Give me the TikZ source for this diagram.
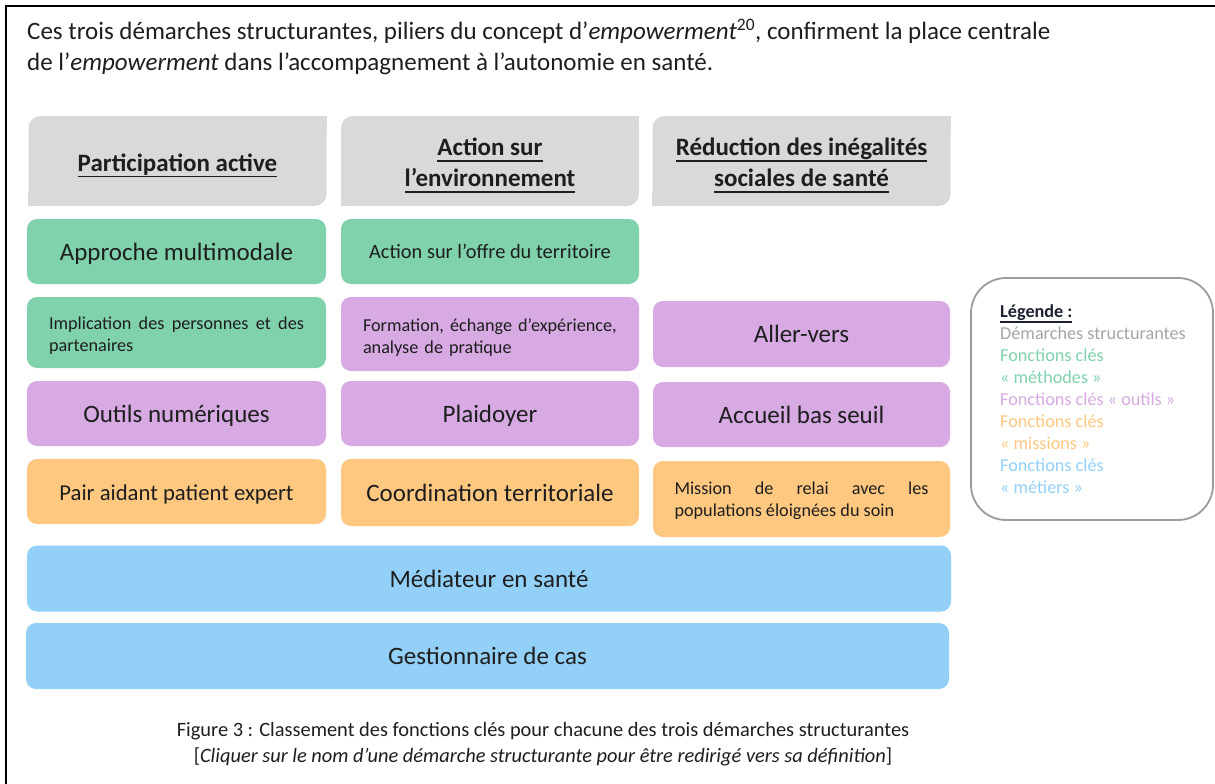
\documentclass[tikz,border=0pt]{standalone}
\usepackage{fontspec}
\setmainfont{Carlito}
\usetikzlibrary{backgrounds}

\definecolor{hdrgray}{HTML}{D9D9D9}
\definecolor{methgreen}{HTML}{80D2AD}
\definecolor{toolpurple}{HTML}{D7AAE3}
\definecolor{missorange}{HTML}{FFC880}
\definecolor{jobblue}{HTML}{93D0F8}
\definecolor{inkdark}{HTML}{1E1E1E}
\definecolor{legendgray}{HTML}{A6A6A6}
\definecolor{legendline}{HTML}{9C9C9C}
\definecolor{legendtitle}{HTML}{1C2230}

% font sizes
\newcommand\bigtext{\fontsize{25}{31}\selectfont}
\newcommand\lesstext{\fontsize{22.7}{28}\selectfont}
\newcommand\midtext{\fontsize{20.4}{26}\selectfont}
\newcommand\smalltext{\fontsize{18.2}{22}\selectfont}

% thick underline for headings
\newcommand\hdrline[1]{\setbox0\hbox{#1}\rlap{\rule[-6pt]{\wd0}{1.6pt}}\box0}
\newcommand\legline[1]{\setbox0\hbox{#1}\rlap{\rule[-4.6pt]{\wd0}{1.3pt}}\box0}

\begin{document}
\begin{tikzpicture}[x=1pt,y=-1pt,
  hdr/.style={fill=hdrgray, rounded corners=12pt, inner sep=0pt,
    minimum width=298pt, minimum height=90pt},
  hdrtext/.style={inner sep=0pt, align=center, font=\bfseries\bigtext, text=inkdark},
  card/.style={rounded corners=10pt, inner sep=0pt, minimum height=65pt,
    align=center, text=inkdark, font=\bigtext},
  oneline/.style={text height=20pt, text depth=2.3pt},
  wide/.style={card, minimum width=299pt},
  mid/.style={card, minimum width=298pt},
  right/.style={card, minimum width=297pt},
  small/.style={font=\smalltext},
  meth/.style={fill=methgreen},
  tool/.style={fill=toolpurple},
  miss/.style={fill=missorange},
  job/.style={fill=jobblue},
]
\useasboundingbox (0,0) rectangle (1215,784);

% frame lines
\draw[line width=2pt, black] (6,784) -- (6,6) -- (1215,6);

% introduction
\node[anchor=base west, inner sep=0pt, text=inkdark, font=\bigtext] (t1) at (27,39.5)
  {Ces trois démarches structurantes, piliers du concept d’\textit{empowerment}\textsuperscript{20}, confirment la place centrale};
\node[anchor=base west, inner sep=0pt, text=inkdark, font=\bigtext] (t2) at (27,70.5)
  {de l’\textit{empowerment} dans l’accompagnement à l’autonomie en santé.};

% column headings
\node[hdr] (h1) at (177.5,161) {};
\node[hdr] (h2) at (490,161) {};
\node[hdr] (h3) at (801.5,161) {};
\node[hdrtext] (h1t) at ([yshift=-4.5pt]h1.center) {\hdrline{Participation active}};
\node[hdrtext] (h2t) at ([yshift=-4.5pt]h2.center) {\hdrline{Action sur}\\\hdrline{l’environnement}};
\node[hdrtext] (h3t) at ([yshift=-4.5pt]h3.center) {\hdrline{Réduction des inégalités}\\\hdrline{sociales de santé}};

% row 1
\node[wide, meth, oneline] (m1) at (176.5,251.5) {Approche multimodale};
\node[mid, meth, font=\midtext] (m2) at (490,251.5) {Action sur l’offre du territoire};

% row 2
\node[wide, meth, minimum height=71pt, small, text width=255pt, align=justify] (m3) at (176.5,332.5)
  {\hyphenpenalty=10000 \rule{0pt}{19pt}Implication des personnes et des\linebreak partenaires};
\node[mid, tool, minimum height=74pt, small, text width=254pt, align=left] (o1) at (490,334)
  {\rule{0pt}{19pt}Formation, échange d’expérience,\\analyse de pratique};
\node[right, tool, oneline, minimum height=66pt] (o2) at (801.5,334) {Aller-vers};

% row 3
\node[wide, tool, oneline] (o3) at (176.5,413.5) {Outils numériques};
\node[mid, tool, oneline] (o4) at (490,413.5) {Plaidoyer};
\node[right, tool, oneline] (o5) at (801.5,414.5) {Accueil bas seuil};

% row 4
\node[wide, miss, oneline, font=\lesstext] (s1) at (176.5,491.5) {Pair aidant patient expert};
\node[mid, miss, oneline, minimum height=67pt] (s2) at (490,492.5) {Coordination territoriale};
\node[right, miss, minimum height=76pt, small, text width=254pt, align=justify] (s3) at (801.5,499)
  {\hyphenpenalty=10000 \rule{0pt}{17pt}Mission de relai avec les\linebreak populations éloignées du soin};

% full-width rows
\node[card, job, oneline, minimum width=924pt, minimum height=66pt] (b1) at (489,578.5) {Médiateur en santé};
\node[card, job, oneline, minimum width=923pt, minimum height=66pt] (b2) at (487.5,656) {Gestionnaire de cas};

% legend
\node[draw=legendline, line width=1.8pt, rounded corners=35pt, minimum width=242pt,
  minimum height=242pt, inner sep=0pt] (lg) at (1092,399) {};
\node[anchor=north west, inner sep=0pt, align=left, font=\smalltext] (lgt) at (1000,305)
  {\textcolor{legendtitle}{\bfseries\legline{Légende :}}\\
   \textcolor{legendgray}{Démarches structurantes}\\
   \textcolor{methgreen}{Fonctions clés}\\
   \textcolor{methgreen}{«~méthodes~»}\\
   \textcolor{toolpurple}{Fonctions clés «~outils~»}\\
   \textcolor{missorange}{Fonctions clés}\\
   \textcolor{missorange}{«~missions~»}\\
   \textcolor{jobblue}{Fonctions clés}\\
   \textcolor{jobblue}{«~métiers~»}};

% caption
\node[align=center, inner sep=0pt, text=inkdark, font=\midtext] (cap) at (543,744.5)
  {Figure 3 : Classement des fonctions clés pour chacune des trois démarches structurantes\\
   {[}\textit{Cliquer sur le nom d’une démarche structurante pour être redirigé vers sa définition}{]}};

% square corners of the headings, and page background
\begin{scope}[on background layer]
  \fill[white] (0,0) rectangle (1215,784);
  \foreach \h in {h1,h2,h3} {
    \fill[hdrgray] (\h.north east) rectangle ([xshift=-14pt,yshift=-14pt]\h.north east);
    \fill[hdrgray] (\h.south west) rectangle ([xshift=14pt,yshift=14pt]\h.south west);
  }
\end{scope}
\end{tikzpicture}
\end{document}
